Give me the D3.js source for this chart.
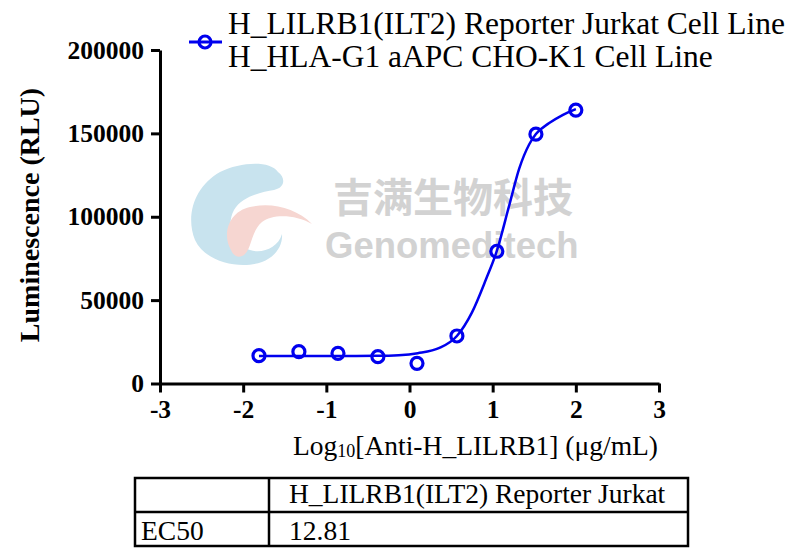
<!DOCTYPE html>
<html>
<head>
<meta charset="utf-8">
<script src="https://cdn.jsdelivr.net/npm/d3@7"></script>
<style>
  body { margin: 0; background: #fff; }
  svg { display: block; }
</style>
</head>
<body>
<div class="chart"></div>
<script>
// data
let logConc = [-1.81, -1.33, -0.86, -0.38, 0.09, 0.57, 1.05, 1.52, 2.0];
let rlu = [16700, 19100, 18100, 16100, 12100, 28500, 79300, 149500, 164000];

// points along the fitted curve
let fitX = [-1.81, -1.3, -0.8, -0.4, -0.13, 0.1, 0.36, 0.57, 0.75, 0.92, 1.05, 1.2, 1.32, 1.44, 1.52, 1.68, 1.84, 2.0];
let fitY = [16500, 16500, 16500, 16600, 17000, 18200, 21300, 28500, 42500, 62500, 79500, 107000, 129000, 143500, 149600, 156200, 161000, 164600];

let xTicks = [-3, -2, -1, 0, 1, 2, 3];
let yTicks = [0, 50000, 100000, 150000, 200000];

let legendLines = ["H_LILRB1(ILT2) Reporter Jurkat Cell Line", "H_HLA-G1 aAPC CHO-K1 Cell Line"];
let tableHeader = ["", "H_LILRB1(ILT2) Reporter Jurkat"];
let tableRow = ["EC50", "12.81"];

let svgWidth = 790;
let svgHeight = 552;
let blue = "#0000ee";
let serif = "'Liberation Serif', 'Times New Roman', serif";

var svg = d3.select(".chart")
  .append("svg")
  .attr("width", svgWidth)
  .attr("height", svgHeight)
  .style("background", "#fff");

// watermark (logo + company name) behind everything
let wm = svg.append("g");
wm.append("path")
  .attr("d", "M278,172 C270,160 240,162 220,172 C195,186 185,215 195,240 C205,262 240,270 262,262 C275,257 283,246 282,234 C278,248 262,254 250,250 C232,245 226,225 234,210 C242,196 262,192 274,190 C285,188 286,178 278,172 Z")
  .attr("fill", "#c8e3ee");
wm.append("path")
  .attr("d", "M231,250 C222,235 228,212 250,207 C272,202 296,208 312,224 C295,214 272,214 262,222 C250,232 252,252 242,256 C237,258 233,255 231,250 Z")
  .attr("fill", "#f6d6d1");
wm.append("text")
  .attr("x", 333).attr("y", 212)
  .style("font-family", "'Noto Sans CJK SC', sans-serif")
  .style("font-weight", "bold")
  .style("font-size", "40px")
  .attr("fill", "#d2d2d2")
  .text("吉满生物科技");
wm.append("text")
  .attr("x", 325).attr("y", 258)
  .style("font-family", "'Liberation Sans', Arial, sans-serif")
  .style("font-weight", "bold")
  .style("font-size", "36.5px")
  .attr("fill", "#d2d2d2")
  .text("Genomeditech");

// scales
let xScale = d3.scaleLinear().domain([-3, 3]).range([160, 659]);
let yScale = d3.scaleLinear().domain([0, 200000]).range([383.5, 50]);

// x axis
let xAxis = svg.append("g")
  .attr("transform", `translate(0, ${yScale(0)})`)
  .call(d3.axisBottom(xScale).tickValues(xTicks).tickSize(9).tickSizeOuter(0).tickPadding(7).tickFormat(d3.format("d")));

// y axis
let yAxis = svg.append("g")
  .attr("transform", `translate(${xScale(-3)}, 0)`)
  .call(d3.axisLeft(yScale).tickValues(yTicks).tickSize(9).tickSizeOuter(0).tickPadding(7).tickFormat(d3.format("d")));

[xAxis, yAxis].forEach(function(ax) {
  ax.select(".domain").attr("stroke", "#000").attr("stroke-width", 3);
  ax.selectAll(".tick line").attr("stroke", "#000").attr("stroke-width", 3);
  ax.selectAll(".tick text")
    .attr("fill", "#000")
    .style("font-family", serif)
    .style("font-weight", "bold")
    .style("font-size", "25.5px");
});
// minus sign as plain hyphen like the original
xAxis.selectAll(".tick text").text(d => d < 0 ? "-" + Math.abs(d) : d);

// axis titles
svg.append("text")
  .attr("transform", "translate(39, 215) rotate(-90)")
  .attr("text-anchor", "middle")
  .style("font-family", serif)
  .style("font-weight", "bold")
  .style("font-size", "28px")
  .text("Luminescence (RLU)");

let xTitle = svg.append("text")
  .attr("x", 293).attr("y", 455)
  .style("font-family", serif)
  .style("font-size", "27.5px");
xTitle.append("tspan").text("Log");
xTitle.append("tspan").style("font-size", "18px").attr("dy", 2).text("10");
xTitle.append("tspan").attr("dy", -2).text("[Anti-H_LILRB1] (\u03bcg/mL)");

// fitted curve
let line = d3.line()
  .x(d => xScale(d[0]))
  .y(d => yScale(d[1]))
  .curve(d3.curveMonotoneX);

svg.append("path")
  .datum(fitX.map((x, i) => [x, fitY[i]]))
  .attr("d", line)
  .attr("fill", "none")
  .attr("stroke", blue)
  .attr("stroke-width", 2.5);

// data points
svg.append("g").selectAll("circle")
  .data(logConc.map((x, i) => [x, rlu[i]]))
  .enter()
  .append("circle")
  .attr("cx", d => xScale(d[0]))
  .attr("cy", d => yScale(d[1]))
  .attr("r", 6)
  .attr("fill", "none")
  .attr("stroke", blue)
  .attr("stroke-width", 3.2);

// legend
let legend = svg.append("g");
legend.append("line")
  .attr("x1", 189).attr("x2", 222).attr("y1", 42).attr("y2", 42)
  .attr("stroke", blue).attr("stroke-width", 3);
legend.append("circle")
  .attr("cx", 205).attr("cy", 42).attr("r", 6)
  .attr("fill", "none").attr("stroke", blue).attr("stroke-width", 3.2);
legend.selectAll("text.leg")
  .data(legendLines)
  .enter()
  .append("text")
  .attr("class", "leg")
  .attr("x", 228)
  .attr("y", (d, i) => 34 + i * 33)
  .style("font-family", serif)
  .style("font-size", "31.5px")
  .text(d => d);

// EC50 table
let table = svg.append("g");
let tLeft = 135, tRight = 688, tTop = 478, tMid = 512, tBottom = 546, tCol = 269;
table.append("rect")
  .attr("x", tLeft).attr("y", tTop)
  .attr("width", tRight - tLeft).attr("height", tBottom - tTop)
  .attr("fill", "none").attr("stroke", "#000").attr("stroke-width", 2.5);
table.append("line")
  .attr("x1", tLeft).attr("x2", tRight).attr("y1", tMid).attr("y2", tMid)
  .attr("stroke", "#000").attr("stroke-width", 2.5);
table.append("line")
  .attr("x1", tCol).attr("x2", tCol).attr("y1", tTop).attr("y2", tBottom)
  .attr("stroke", "#000").attr("stroke-width", 2.5);

[tableHeader, tableRow].forEach(function(row, r) {
  row.forEach(function(cell, c) {
    table.append("text")
      .attr("x", c === 0 ? 141 : 289)
      .attr("y", r === 0 ? 503 : 540)
      .style("font-family", serif)
      .style("font-size", "27.5px")
      .text(cell);
  });
});
</script>
</body>
</html>
